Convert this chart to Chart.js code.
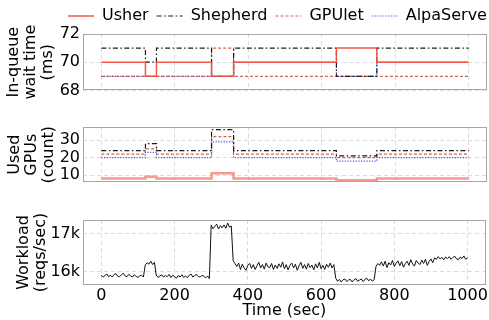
<!DOCTYPE html>
<html>
<head>
    <title>Usher wait time / GPUs / workload</title>
    <script src="https://cdn.jsdelivr.net/npm/chart.js"></script>
    <style>
        body { margin: 0; background: #fff; }
        #wrap { position: relative; width: 489px; height: 320px; }
        .box { position: absolute; left: 0; width: 489px; }
    </style>
</head>
<body>
<div id="wrap">
    <div class="box" style="top:0;height:103px"><canvas id="waitChart"></canvas></div>
    <div class="box" style="top:105px;height:90px"><canvas id="gpuChart"></canvas></div>
    <div class="box" style="top:200px;height:120px"><canvas id="loadChart"></canvas></div>
</div>
<script>
    // change points (sec) for the step series, value holds until next time
    const stepTimes = [0, 120, 150, 300, 360, 640, 750, 1000];
    const timeTicks = [0, 200, 400, 600, 800, 1000];

    // in-queue wait time (ms)
    const waitUsher    = [70, 69, 70, 69, 70, 71, 70, 70];
    const waitShepherd = [71, 70, 71, 69, 71, 69, 71, 71];
    const waitGPUlet   = [69, 69, 69, 71, 69, 69, 69, 69];
    const waitAlpa     = [69, 69, 69, 69, 70, 69, 70, 70];

    // used GPUs (count)
    const gpuUsher    = [8, 9, 8, 11, 8, 7, 8, 8];
    const gpuShepherd = [24, 28, 24, 36, 24, 21, 24, 24];
    const gpuGPUlet   = [22, 25, 22, 32, 22, 20, 22, 22];
    const gpuAlpa     = [20, 23, 20, 29, 20, 18, 20, 20];

    // workload (reqs/sec), one sample every 5 sec from 0 to 1000
    const workloadStep = 5;
    const workloadValues = [
        15910, 15860, 15900, 15940, 15870, 15910, 15860, 15930,
        15950, 15880, 15870, 15920, 15960, 15890, 15870, 15930,
        15890, 15860, 15920, 15880, 15850, 15890, 15910, 15860,
        16180, 16240, 16200, 16280, 16190, 16250,
        15910, 15850, 15890, 15920, 15860, 15900, 15870, 15930,
        15850, 15910, 15870, 15830, 15900, 15860, 15920, 15850,
        15890, 15840, 15910, 15940, 15860, 15900, 15930, 15870,
        15860, 15910, 15880, 15840, 15890, 15820,
        17230, 17140, 17200, 17260, 17130, 17220, 17160, 17240, 17150, 17290, 17180, 17210,
        16290, 16220, 16140, 16230, 16060, 16200, 16100, 16040,
        16170, 16220, 16090, 16190, 16060, 16160, 16250, 16100,
        16190, 16070, 16230, 16130, 16110, 16220, 16060, 16180,
        16090, 16210, 16120, 16260, 16080, 16190, 16050, 16170,
        16230, 16100, 16200, 16040, 16160, 16250, 16090, 16190,
        16070, 16220, 16110, 16180, 16050, 16210, 16100, 16250,
        16080, 16170, 16060, 16200, 16120, 16230, 16100, 16190,
        15830, 15750, 15800, 15730, 15790, 15810, 15740, 15780,
        15800, 15730, 15790, 15820, 15750, 15780, 15810, 15740,
        15800, 15830, 15760, 15810, 15750, 15790,
        16140, 16220, 16170, 16260, 16150, 16280, 16110, 16240,
        16180, 16300, 16140, 16230, 16290, 16160, 16270, 16120,
        16220, 16280, 16170, 16320, 16210, 16150, 16300, 16230,
        16190, 16310, 16220, 16330, 16170, 16270, 16340, 16240,
        16370, 16330, 16400, 16340, 16380, 16320, 16390, 16350,
        16400, 16330, 16380, 16410, 16340, 16320, 16390, 16350,
        16420, 16330, 16370
    ];
    const workloadTimes = workloadValues.map((v, i) => i * workloadStep);

    Chart.defaults.font.family = "'DejaVu Sans', sans-serif";
    Chart.defaults.font.size = 16;
    Chart.defaults.color = '#000';
    Chart.defaults.animation = false;

    function pts(xs, ys) {
        return xs.map((x, i) => ({x: x, y: ys[i]}));
    }

    // box around the plot area, like a matplotlib axes frame
    const framePlugin = {
        id: 'frame',
        afterDatasetsDraw(chart) {
            const a = chart.chartArea;
            const ctx = chart.ctx;
            ctx.save();
            ctx.strokeStyle = '#a6a6a6';
            ctx.lineWidth = 1;
            ctx.strokeRect(Math.round(a.left) + 0.5, Math.round(a.top) + 0.5,
                Math.round(a.right - a.left) - 1, Math.round(a.bottom - a.top) - 1);
            ctx.restore();
        }
    };

    // nudge the legend to the right, it sits over the plot centre in the original
    const legendShift = {
        id: 'legendShift',
        afterLayout(chart) {
            if (chart.legend) {
                chart.legend.left += 34;
                chart.legend.right += 34;
            }
        }
    };

    function timeAxis(showLabels, height) {
        return {
            type: 'linear',
            min: -50,
            max: 1050,
            afterBuildTicks: s => { s.ticks = timeTicks.map(v => ({value: v})); },
            afterFit: s => { s.height = height; },
            ticks: { display: showLabels, padding: 1, maxRotation: 0, callback: v => String(v) },
            grid: { color: '#dcdcdc', drawTicks: false },
            border: { display: false, dash: [4, 3] },
            title: {
                display: showLabels,
                text: 'Time (sec)',
                font: { size: 16 },
                padding: { top: 3, bottom: 0 }
            }
        };
    }

    function valueAxis(min, max, ticks, title, titlePad, fmt) {
        const axis = {
            min: min,
            max: max,
            afterBuildTicks: s => { s.ticks = ticks.map(v => ({value: v})); },
            afterFit: s => { s.width = 83; },
            ticks: { padding: 3 },
            grid: { color: '#dcdcdc', drawTicks: false },
            border: { display: false, dash: [4, 3] },
            title: {
                display: true,
                text: title,
                font: { size: 16, lineHeight: 1.06 },
                padding: { top: titlePad, bottom: 0 }
            }
        };
        if (fmt) axis.ticks.callback = fmt;
        return axis;
    }

    function series(label, values, color, width, dash) {
        return {
            label: label,
            data: pts(stepTimes, values),
            borderColor: color,
            backgroundColor: color,
            borderWidth: width,
            borderDash: dash,
            stepped: true,
            pointRadius: 0,
            pointStyle: 'line',
            fill: false
        };
    }

    // legend entries take the dash pattern of their dataset line
    function lineLabels(chart) {
        return Chart.defaults.plugins.legend.labels.generateLabels(chart).map(item => {
            const ds = chart.data.datasets[item.datasetIndex];
            item.lineDash = ds.borderDash;
            item.strokeStyle = ds.borderColor;
            item.lineWidth = ds.borderWidth;
            return item;
        });
    }

    const usherColor = 'rgba(240, 80, 64, 0.95)';
    const shepherdColor = '#1a1a1a';
    const gpuletColor = 'rgba(200, 70, 58, 0.85)';
    const alpaColor = 'rgba(40, 70, 255, 0.9)';
    const shepherdDash = [5, 2.5, 1.5, 2.5];

    new Chart(document.getElementById('waitChart'), {
        type: 'line',
        data: {
            datasets: [
                series('Usher', waitUsher, usherColor, 1.5, []),
                series('Shepherd', waitShepherd, shepherdColor, 1.2, shepherdDash),
                series('GPUlet', waitGPUlet, gpuletColor, 1.2, [3, 2]),
                series('AlpaServe', waitAlpa, alpaColor, 1.2, [1.2, 1.5])
            ]
        },
        options: {
            responsive: true,
            maintainAspectRatio: false,
            layout: { padding: { top: 0, right: 2, left: 0, bottom: 0 } },
            scales: {
                x: timeAxis(false, 4),
                y: valueAxis(68, 72, [68, 70, 72], ['In-queue', 'wait time', '(ms)'], 5.5)
            },
            plugins: {
                legend: {
                    position: 'top',
                    align: 'center',
                    labels: {
                        usePointStyle: true,
                        pointStyleWidth: 26,
                        padding: 8,
                        font: { size: 16 },
                        color: '#000',
                        generateLabels: lineLabels
                    }
                },
                tooltip: { enabled: false }
            }
        },
        plugins: [framePlugin, legendShift]
    });

    new Chart(document.getElementById('gpuChart'), {
        type: 'line',
        data: {
            datasets: [
                series('Usher', gpuUsher, 'rgba(242, 110, 95, 0.7)', 2.5, []),
                series('Shepherd', gpuShepherd, shepherdColor, 1.2, shepherdDash),
                series('GPUlet', gpuGPUlet, gpuletColor, 1.2, [3, 2]),
                series('AlpaServe', gpuAlpa, alpaColor, 1.2, [1.2, 1.5])
            ]
        },
        options: {
            responsive: true,
            maintainAspectRatio: false,
            layout: { padding: { top: 22, right: 2, left: 0, bottom: 0 } },
            scales: {
                x: timeAxis(false, 3),
                y: valueAxis(5.8, 37.5, [10, 20, 30], ['Used', 'GPUs', '(count)'], 6.5)
            },
            plugins: { legend: { display: false }, tooltip: { enabled: false } }
        },
        plugins: [framePlugin]
    });

    new Chart(document.getElementById('loadChart'), {
        type: 'line',
        data: {
            datasets: [{
                label: 'Workload',
                data: pts(workloadTimes, workloadValues),
                borderColor: '#111',
                borderWidth: 1,
                pointRadius: 0,
                fill: false
            }]
        },
        options: {
            responsive: true,
            maintainAspectRatio: false,
            layout: { padding: { top: 20, right: 2, left: 0, bottom: 0 } },
            scales: {
                x: timeAxis(true, 35),
                y: valueAxis(15650, 17370, [16000, 17000], ['Workload', '(reqs/sec)'], 15,
                    v => (v / 1000) + 'k')
            },
            plugins: { legend: { display: false }, tooltip: { enabled: false } }
        },
        plugins: [framePlugin]
    });
</script>
</body>
</html>
